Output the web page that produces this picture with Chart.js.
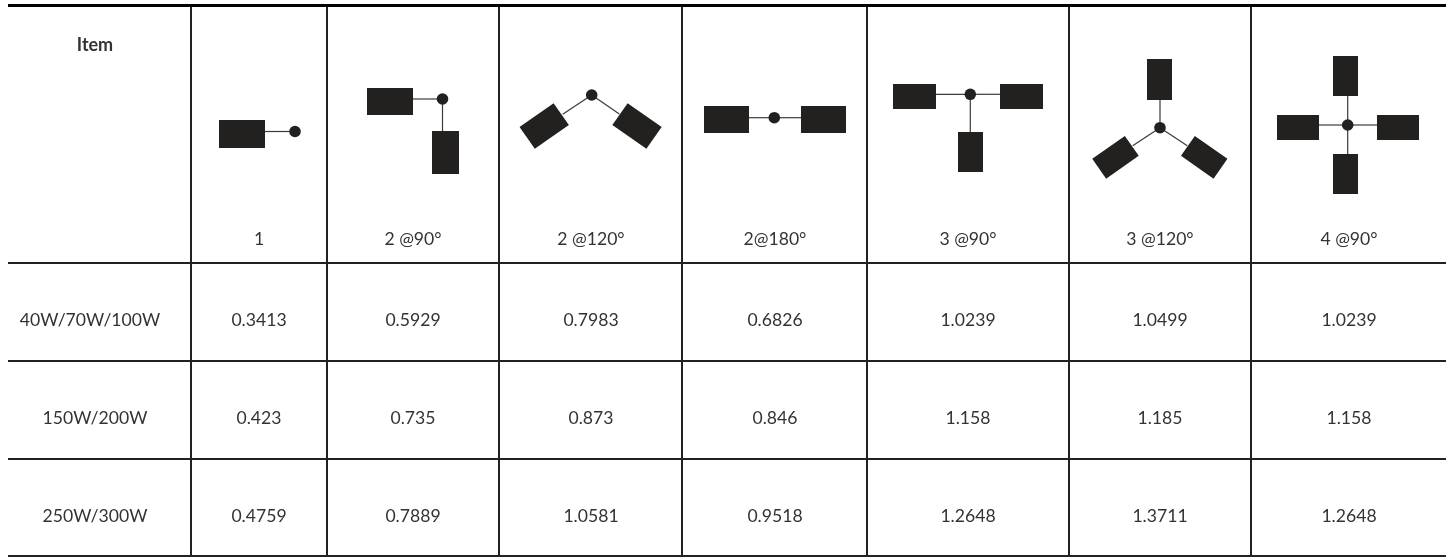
<!DOCTYPE html>
<html><head><meta charset="utf-8">
<style>html,body{margin:0;padding:0;background:#fff}canvas{display:block}</style>
<script src="https://cdn.jsdelivr.net/npm/chart.js@4"></script>
</head><body><canvas id="c" width="1454" height="558"></canvas>
<script>
// ---- table content ----
const headerTitle = "Item";
const arrangements = ["1","2 @90°","2 @120°","2@180°","3 @90°","3 @120°","4 @90°"];
const rowLabels = ["40W/70W/100W","150W/200W","250W/300W"];
const values40to100 = [0.3413,0.5929,0.7983,0.6826,1.0239,1.0499,1.0239];
const values150to200 = [0.423,0.735,0.873,0.846,1.158,1.185,1.158];
const values250to300 = [0.4759,0.7889,1.0581,0.9518,1.2648,1.3711,1.2648];

// ---- layout (axis units equal page pixels) ----
const colEdges = [8,191,327,499,682,867,1069,1251,1446];
const rowEdges = [5,263,360.5,458.5,556];
const colCenters = [259,413,591,775,968,1160,1349];
const firstColX = [90,95,95];
const rowTextY = [320,418,516];
const headY = 239, itemY = 45, itemX = 95;
const INK = "#22211f", TEXT = "#333333";
const FONT = '"Lato"';

// fixture glyphs: hub, then each lamp head as [cx,cy,w,h,rotDeg, stemEndX,stemEndY]
const glyphs = [
  {hub:[295,131.5],arms:[[242,134,46,28,0,265,131.5]]},
  {hub:[442.5,99],arms:[[390,101.5,46,27,0,413,99],[445.5,152.5,27,43,0,442.5,131]]},
  {hub:[591.7,95],arms:[[544.2,126,41.6,26.6,-35,562.7,114.3],[637,126,41.6,26.6,35,619.3,114]]},
  {hub:[774.3,117.7],arms:[[726.5,119.5,45,27,0,749,117.7],[823.5,119.5,45,27,0,801,117.7]]},
  {hub:[970.3,94.3],arms:[[914.5,96.5,43,25,0,936,94.3],[1021.5,96.5,43,25,0,1000,94.3],[970.5,152,25,40,0,970.3,132]]},
  {hub:[1160,127.7],arms:[[1159.5,79.5,25,41,0,1160,100],[1115.5,157.3,39.8,24.2,-35,1132.7,145.7],[1204.2,157.3,39.8,24.2,35,1187.3,145.7]]},
  {hub:[1347.7,125],arms:[[1345.5,76,25,40,0,1347.7,96],[1345.5,174,25,40,0,1347.7,154],[1298,127.5,42,25,0,1319,125],[1398,127.5,42,25,0,1377,125]]}
];

const cellPoints = (vals,r)=>vals.map((v,i)=>({x:colCenters[i],y:rowTextY[r],text:String(v)}));
const datasets = [
  {label:"hubs",data:glyphs.map(g=>({x:g.hub[0],y:g.hub[1]})),pointRadius:5.8,pointBackgroundColor:INK,pointBorderWidth:0,showLine:false},
  {label:"arrangement",data:arrangements.map((t,i)=>({x:colCenters[i],y:headY,text:t})),pointRadius:0,showLine:false},
  {label:"rows",data:rowLabels.map((t,i)=>({x:firstColX[i],y:rowTextY[i],text:t})),pointRadius:0,showLine:false},
  {label:"40W/70W/100W",data:cellPoints(values40to100,0),pointRadius:0,showLine:false},
  {label:"150W/200W",data:cellPoints(values150to200,1),pointRadius:0,showLine:false},
  {label:"250W/300W",data:cellPoints(values250to300,2),pointRadius:0,showLine:false},
  {label:"title",data:[{x:itemX,y:itemY,text:headerTitle,bold:true}],pointRadius:0,showLine:false}
];

const tablePlugin = {
  id:"table",
  beforeDatasetsDraw(chart){
    const {ctx,scales:{x,y}} = chart;
    ctx.save();
    glyphs.forEach(g=>{
      const hx=x.getPixelForValue(g.hub[0]),hy=y.getPixelForValue(g.hub[1]);
      g.arms.forEach(a=>{
        ctx.strokeStyle="#3a3a38";ctx.lineWidth=1.2;
        ctx.beginPath();ctx.moveTo(hx,hy);ctx.lineTo(x.getPixelForValue(a[5]),y.getPixelForValue(a[6]));ctx.stroke();
        ctx.save();
        ctx.translate(x.getPixelForValue(a[0]),y.getPixelForValue(a[1]));
        ctx.rotate(a[4]*Math.PI/180);
        ctx.fillStyle=INK;ctx.fillRect(-a[2]/2,-a[3]/2,a[2],a[3]);
        ctx.restore();
      });
    });
    ctx.restore();
  },
  afterDatasetsDraw(chart){
    const {ctx} = chart;
    ctx.save();
    ctx.textAlign="center";ctx.textBaseline="middle";ctx.fillStyle=TEXT;
    chart.data.datasets.forEach((ds,di)=>{
      chart.getDatasetMeta(di).data.forEach((el,i)=>{
        const p=ds.data[i];
        if(!p.text) return;
        ctx.font=(p.bold?"bold 18px ":"17.6px ")+FONT;
        ctx.fillText(p.text,el.x,el.y);
      });
    });
    ctx.restore();
  }
};

const fixedTicks = list => scale => { scale.ticks = list.map(v=>({value:v})); };

new Chart(document.getElementById("c"),{
  type:"scatter",
  data:{datasets},
  plugins:[tablePlugin],
  options:{
    responsive:false,animation:false,devicePixelRatio:1,
    layout:{autoPadding:false,padding:{left:8,right:8,top:5,bottom:2}},
    plugins:{legend:{display:false},tooltip:{enabled:false},title:{display:false}},
    scales:{
      x:{type:"linear",min:colEdges[0],max:colEdges[colEdges.length-1],display:true,
        afterBuildTicks:fixedTicks(colEdges),
        afterFit:s=>{s.height=0;},
        ticks:{display:false},border:{display:false},
        grid:{drawTicks:false,lineWidth:2,
          color:c=>(c.index===0||c.index===colEdges.length-1)?"rgba(0,0,0,0)":INK}},
      y:{type:"linear",reverse:true,min:rowEdges[0],max:rowEdges[rowEdges.length-1],display:true,
        afterBuildTicks:fixedTicks(rowEdges),
        afterFit:s=>{s.width=0;},
        ticks:{display:false},border:{display:false},
        grid:{drawTicks:false,
          lineWidth:c=>c.index===0?3:2,
          color:c=>c.index===0?"#000000":INK}}
    }
  }
});
</script></body></html>
